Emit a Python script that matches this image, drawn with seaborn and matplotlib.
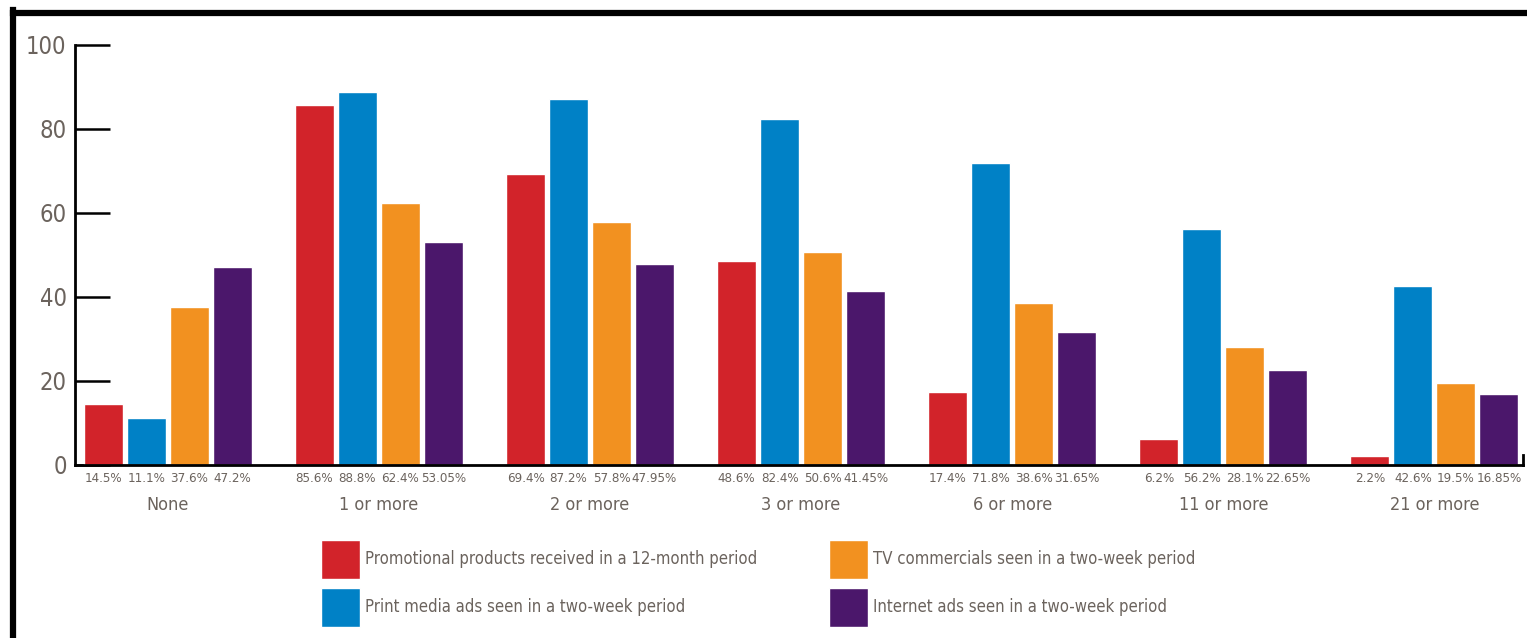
import numpy as np
import pandas as pd
import matplotlib
matplotlib.use('Agg')
import matplotlib.pyplot as plt
from matplotlib.lines import Line2D
import seaborn as sns

sns.set_style('white')
plt.rcParams['font.family'] = ['Liberation Sans Narrow', 'DejaVu Sans']
plt.rcParams['font.stretch'] = 'condensed'

# data
categories = ['None', '1 or more', '2 or more', '3 or more', '6 or more', '11 or more', '21 or more']
series = ['Promotional products received in a 12-month period',
          'Print media ads seen in a two-week period',
          'TV commercials seen in a two-week period',
          'Internet ads seen in a two-week period']
promo = [14.5, 85.6, 69.4, 48.6, 17.4, 6.2, 2.2]
print_ads = [11.1, 88.8, 87.2, 82.4, 71.8, 56.2, 42.6]
tv = [37.6, 62.4, 57.8, 50.6, 38.6, 28.1, 19.5]
internet = [47.2, 53.05, 47.95, 41.45, 31.65, 22.65, 16.85]
colors = ['#d2232a', '#0081c6', '#f29120', '#4b176b']
yticks = [0, 20, 40, 60, 80, 100]

text_col = '#6b635d'

df = pd.DataFrame({
    'cat': np.repeat(categories, 4),
    'series': series * len(categories),
    'value': np.ravel(np.column_stack([promo, print_ads, tv, internet])),
})

W, H = 1527, 638
fig = plt.figure(figsize=(W / 100, H / 100), dpi=100)
ax = fig.add_axes([75 / W, 1 - 465 / H, 1448 / W, 420 / H])

sns.barplot(data=df, x='cat', y='value', hue='series', hue_order=series,
            palette=colors, order=categories, width=0.815, gap=0.09,
            saturation=1, ax=ax, legend=True)

ax.set_xlim(-0.44, 6.42)
ax.set_ylim(0, 100)
ax.set_yticks(yticks)
ax.set_xlabel('')
ax.set_ylabel('')

ax.spines['top'].set_visible(False)
for s in ['left', 'bottom', 'right']:
    ax.spines[s].set_color('black')
    ax.spines[s].set_linewidth(2)
ax.spines['right'].set_bounds(0, 2.4)

ax.tick_params(axis='y', direction='in', length=25, width=1.8, color='black',
               labelsize=17, labelcolor=text_col, pad=6, left=True)
ax.tick_params(axis='x', length=0, labelsize=13, labelcolor=text_col, pad=22)

# value labels under each bar
for cont in ax.containers:
    for bar in cont:
        x = bar.get_x() + bar.get_width() / 2
        v = bar.get_height()
        ax.annotate(f'{v:g}%', (x, 0), xytext=(0, -10), textcoords='offset points',
                    ha='center', va='center', fontsize=9.5, color=text_col)

handles, labels = ax.get_legend_handles_labels()
ax.legend_.remove()
leg_kw = dict(loc='upper left', frameon=False, fontsize=12, labelcolor=text_col,
              handlelength=2.34, handleheight=3.22, handletextpad=0.3,
              labelspacing=0.55, borderpad=0, borderaxespad=0)
fig.legend(handles[:2], labels[:2], bbox_to_anchor=(321 / W, 1 - 540 / H), **leg_kw)
fig.legend(handles[2:], labels[2:], bbox_to_anchor=(829 / W, 1 - 540 / H), **leg_kw)

# outer frame on the left and top
fig.add_artist(Line2D([13 / W, 13 / W], [0, 1 - 10 / H], transform=fig.transFigure,
                      color='black', linewidth=4.5, solid_capstyle='projecting'))
fig.add_artist(Line2D([13 / W, 1], [1 - 13 / H, 1 - 13 / H], transform=fig.transFigure,
                      color='black', linewidth=4.5, solid_capstyle='projecting'))

fig.savefig('out.png', dpi=100)
